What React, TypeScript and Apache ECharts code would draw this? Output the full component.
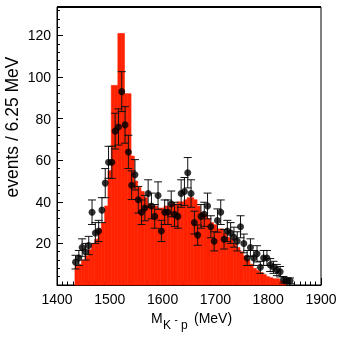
import React, { useEffect, useRef } from 'react';
import * as echarts from 'echarts';

// Histogram (red) : bins of 6.25 MeV starting at histStart
const histStart = 1434;
const binWidth = 6.25;
const mcCounts = [
  9, 10, 12, 14, 17, 20, 22, 27, 30, 38,
  55, 96, 96, 121, 121, 92, 92, 62, 50, 47,
  45, 42, 39, 38, 38, 37, 37, 38, 38, 39,
  39, 40, 40, 41, 42, 42, 41, 38, 35, 34,
  32, 30, 29, 27, 27, 25, 23, 22, 20, 18,
  16, 14, 12, 10, 8, 7, 6, 5, 4, 3.5,
  3, 3, 2, 1.5,
];

// Data points at bin centres
const dataStart = 1435.125;
const dataCounts = [
  11, 13, 18, 16, 19, 35, 25, 26, 36, 49,
  59, 59, 74, 76, 93, 77, 64, 48, 53, 41,
  35, 37, 44, 38, 33, 43, 26, 35, 35, 39,
  34, 33, 44, 45, 54, 44, 30, 24, 33, 34,
  38, 28, 21, 31, 35, 22, 26, 25, 23, 21,
  28, 20, 13, 18, 13, 15, 8.5, 13, 13, 9.6,
  8.5, 7.2, 6.4, 2.5, 2, 2,
];
const dataErrors = [
  3.3, 3.6, 4.2, 4.0, 4.4, 5.9, 5.0, 5.1, 6.0, 7.0,
  7.7, 7.7, 8.6, 8.7, 9.6, 8.8, 8.0, 6.9, 7.3, 6.4,
  5.9, 6.1, 6.6, 6.2, 5.7, 6.6, 5.1, 5.9, 5.9, 6.2,
  5.8, 5.7, 6.6, 6.7, 7.3, 6.6, 5.5, 4.9, 5.7, 5.8,
  6.2, 5.3, 4.6, 5.6, 5.9, 4.7, 5.1, 5.0, 4.8, 4.6,
  5.3, 4.5, 3.6, 4.2, 3.6, 3.9, 2.9, 3.6, 3.6, 3.1,
  2.9, 2.7, 2.5, 1.6, 1.4, 1.4,
];

const xMin = 1400;
const xMax = 1900;
const xStep = 100;
const yMin = 0;
const yMax = 133.7;
const yStep = 20;

const RED = '#ff2200';
const FONT = '"Liberation Sans", Arial, Helvetica, sans-serif';

export default function App() {
  const ref = useRef<HTMLDivElement>(null);
  useEffect(() => {
    const chart = echarts.init(ref.current!, null, { renderer: 'svg' });
    const histData = mcCounts.map((v, i) => [
      histStart + i * binWidth,
      histStart + (i + 1) * binWidth,
      v,
    ]);
    const pts = dataCounts.map((v, i) => [dataStart + i * binWidth, v, dataErrors[i]]);

    chart.setOption({
      animation: false,
      grid: {
        left: 57,
        right: 36,
        top: 7,
        bottom: 58,
        show: true,
        borderColor: '#000',
        borderWidth: 1,
        backgroundColor: 'transparent',
      },
      xAxis: {
        type: 'value',
        min: xMin,
        max: xMax,
        interval: xStep,
        axisLine: { show: true, onZero: false, lineStyle: { color: '#000', width: 1 } },
        axisTick: { show: true, inside: true, length: 7, lineStyle: { color: '#000' } },
        minorTick: { show: true, splitNumber: 10, length: 3.5, lineStyle: { color: '#000' } },
        splitLine: { show: false },
        axisLabel: {
          fontSize: 14,
          color: '#000',
          margin: 7,
          fontFamily: FONT,
          formatter: (v: number) => String(v),
        },
      },
      yAxis: {
        type: 'value',
        min: yMin,
        max: yMax,
        interval: yStep,
        axisLine: { show: true, lineStyle: { color: '#000', width: 1 } },
        axisTick: { show: true, inside: true, length: 6, lineStyle: { color: '#000' } },
        minorTick: { show: true, splitNumber: 5, length: 3, lineStyle: { color: '#000' } },
        splitLine: { show: false },
        axisLabel: {
          fontSize: 14,
          color: '#000',
          margin: 6,
          fontFamily: FONT,
          formatter: (v: number) => (v > 0 && Math.abs(v % yStep) < 1e-6 ? String(v) : ''),
        },
      },
      graphic: [
        {
          type: 'line',
          shape: { x1: 57, y1: 7, x2: 321, y2: 7 },
          style: { stroke: '#000', lineWidth: 2 },
        },
        {
          type: 'text',
          x: 12,
          y: 127,
          rotation: Math.PI / 2,
          style: {
            text: 'events / 6.25 MeV',
            font: `17.5px ${FONT}`,
            fill: '#000',
            align: 'center',
            verticalAlign: 'middle',
          },
        },
        { type: 'text', x: 151, y: 317.5, style: { text: 'M', font: `14px ${FONT}`, fill: '#000', align: 'left', verticalAlign: 'middle' } },
        { type: 'text', x: 163, y: 325, style: { text: 'K', font: `12px ${FONT}`, fill: '#000', align: 'left', verticalAlign: 'middle' } },
        { type: 'text', x: 174.5, y: 319, style: { text: '-', font: `10px ${FONT}`, fill: '#000', align: 'left', verticalAlign: 'middle' } },
        { type: 'text', x: 181, y: 325, style: { text: 'p', font: `12px ${FONT}`, fill: '#000', align: 'left', verticalAlign: 'middle' } },
        { type: 'text', x: 194, y: 317.5, style: { text: '(MeV)', font: `14px ${FONT}`, fill: '#000', align: 'left', verticalAlign: 'middle' } },
      ],
      series: [
        {
          type: 'custom',
          name: 'mc',
          data: histData,
          encode: { x: [0, 1], y: 2 },
          z: 1,
          renderItem: (params: any, api: any) => {
            const p0 = api.coord([api.value(0), api.value(2)]);
            const p1 = api.coord([api.value(1), 0]);
            return {
              type: 'rect',
              shape: { x: p0[0], y: p0[1], width: p1[0] - p0[0], height: p1[1] - p0[1] },
              style: { fill: RED, stroke: RED, lineWidth: 0.6 },
            };
          },
        },
        {
          type: 'custom',
          name: 'errors',
          data: pts,
          encode: { x: 0, y: 1 },
          z: 3,
          renderItem: (params: any, api: any) => {
            const x = api.value(0);
            const y = api.value(1);
            const e = api.value(2);
            const top = api.coord([x, y + e]);
            const bot = api.coord([x, y - e]);
            const h = 4;
            const st = { stroke: '#111', lineWidth: 1 };
            return {
              type: 'group',
              children: [
                { type: 'line', shape: { x1: top[0], y1: top[1], x2: bot[0], y2: bot[1] }, style: st },
                { type: 'line', shape: { x1: top[0] - h, y1: top[1], x2: top[0] + h, y2: top[1] }, style: st },
                { type: 'line', shape: { x1: bot[0] - h, y1: bot[1], x2: bot[0] + h, y2: bot[1] }, style: st },
              ],
            };
          },
        },
        {
          type: 'scatter',
          name: 'data',
          data: pts.map((p) => [p[0], p[1]]),
          symbol: 'circle',
          symbolSize: 7,
          itemStyle: { color: '#000' },
          z: 4,
        },
      ],
    });
    return () => chart.dispose();
  }, []);
  return (
    <div
      ref={ref}
      style={{ position: 'fixed', left: 0, top: 0, width: 357, height: 343 }}
    />
  );
}
